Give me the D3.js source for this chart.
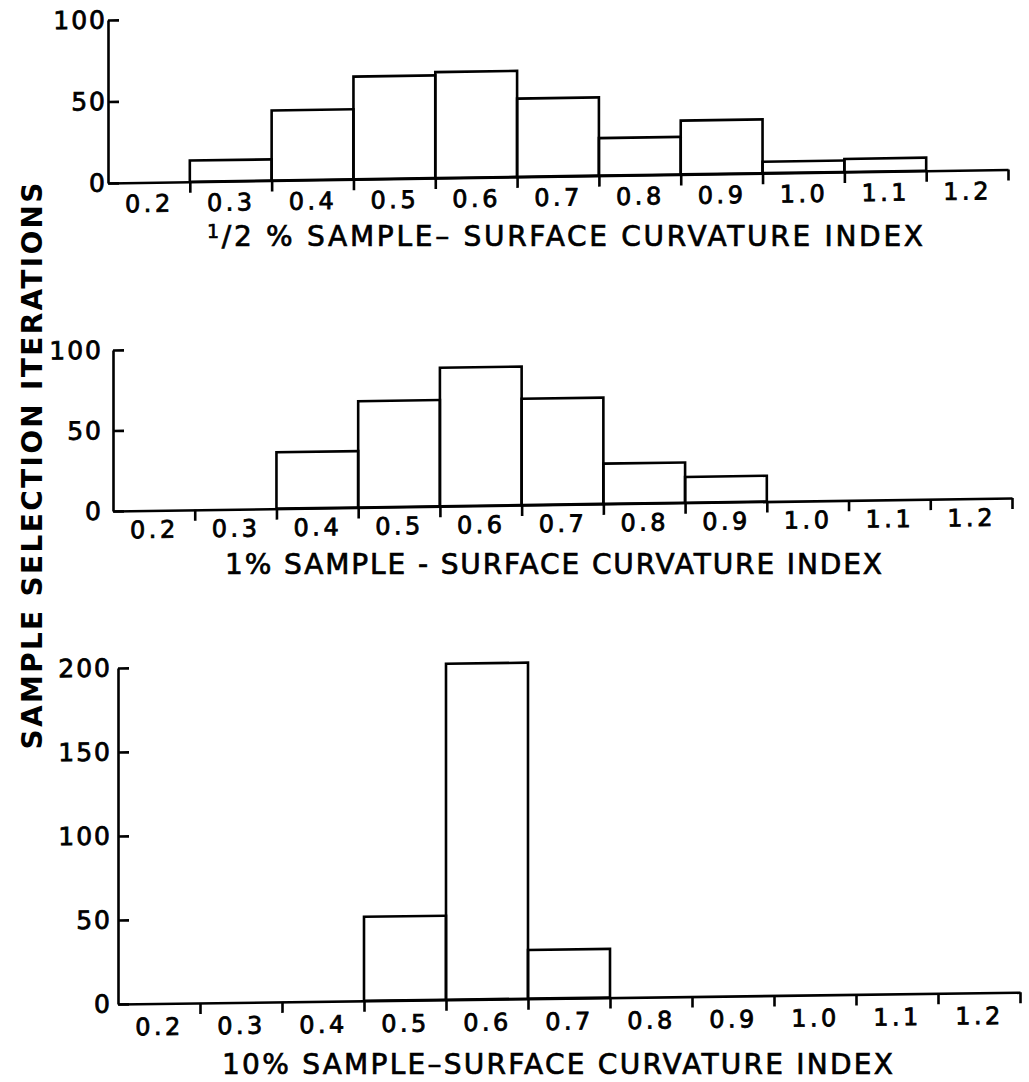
<!DOCTYPE html>
<html>
<head>
<meta charset="utf-8">
<script src="https://cdn.jsdelivr.net/npm/d3@7"></script>
<style>
  html, body { margin: 0; padding: 0; background: #fff; }
  svg { display: block; }
</style>
</head>
<body>
<svg id="chart" width="1029" height="1082"></svg>
<script>
// ---- data ----
const categories = [0.2, 0.3, 0.4, 0.5, 0.6, 0.7, 0.8, 0.9, 1.0, 1.1, 1.2];
const halfPercent = [0, 13, 43, 63, 65, 48, 23, 33, 7, 8, 0];
const onePercent  = [0, 0, 35, 66, 86, 66, 25, 16, 0, 0, 0];
const tenPercent  = [0, 0, 0, 50, 200, 29, 0, 0, 0, 0, 0];
const yTicksSmall = [0, 50, 100];
const yTicksLarge = [0, 50, 100, 150, 200];
const yTitle = "SAMPLE SELECTION ITERATIONS";
const xTitleRest1 = " % SAMPLE\u2013 SURFACE CURVATURE INDEX";
const xTitle2 = "1% SAMPLE - SURFACE CURVATURE INDEX";
const xTitle3 = "10% SAMPLE\u2013SURFACE CURVATURE INDEX";

// ---- layout ----
const svg = d3.select("#chart");
const FONT = "'DejaVu Sans', 'Liberation Sans', sans-serif";
const binHalf = 0.05;
const boundaries = d3.range(categories.length).map(i => +(categories[i] + binHalf).toFixed(2));

const panels = [
  { values: halfPercent, yMax: 100, yTicks: yTicksSmall, ox: 108, oy: 183, ex: 1008, yTop: 20,  slope: -0.015,  labelOff: 29.5, yPad: 1 },
  { values: onePercent,  yMax: 100, yTicks: yTicksSmall, ox: 113, oy: 511, ex: 1012, yTop: 350, slope: -0.0145, labelOff: 27.5, yPad: 10 },
  { values: tenPercent,  yMax: 200, yTicks: yTicksLarge, ox: 118, oy: 1004, ex: 1020, yTop: 668, slope: -0.013, labelOff: 31.5, yPad: 6 }
];

panels.forEach(p => {
  const x = d3.scaleLinear().domain([categories[0] - binHalf, categories[categories.length - 1] + binHalf]).range([p.ox, p.ex]);
  const y = d3.scaleLinear().domain([0, p.yMax]).range([p.oy, p.yTop]);
  const ang = Math.atan(p.slope) * 180 / Math.PI;
  const g = svg.append("g")
    .attr("transform", `translate(${p.ox},${p.oy}) skewY(${ang}) translate(${-p.ox},${-p.oy})`);

  // bars
  g.append("g").selectAll("rect")
    .data(categories.map((c, i) => ({ c, v: p.values[i] })).filter(d => d.v > 0))
    .join("rect")
    .attr("x", d => x(d.c - binHalf))
    .attr("width", d => x(d.c + binHalf) - x(d.c - binHalf))
    .attr("y", d => y(d.v))
    .attr("height", d => y(0) - y(d.v))
    .attr("fill", "none")
    .attr("stroke", "#000")
    .attr("stroke-width", 2.6);

  // x axis: baseline + boundary ticks
  const xa = g.append("g").attr("transform", `translate(0,${p.oy})`)
    .call(d3.axisBottom(x).tickValues(boundaries).tickSizeInner(11).tickSizeOuter(0).tickFormat(""));
  xa.selectAll("path, line").attr("stroke", "#000").attr("stroke-width", 2.6);

  // x tick labels at bin centres
  const xl = g.append("g").attr("transform", `translate(0,${p.oy})`)
    .call(d3.axisBottom(x).tickValues(categories).tickSize(0).tickFormat(d3.format(".1f")));
  xl.select(".domain").remove();
  xl.selectAll("text")
    .attr("y", p.labelOff).attr("dy", 0)
    .attr("font-family", FONT).attr("font-size", 24)
    .attr("letter-spacing", 3.5)
    .attr("fill", "#000").attr("stroke", "#000").attr("stroke-width", 0.8);

  // y axis with inward ticks
  const ya = g.append("g").attr("transform", `translate(${p.ox},0)`)
    .call(d3.axisLeft(y).tickValues(p.yTicks).tickSizeInner(-11).tickSizeOuter(0).tickPadding(p.yPad));
  ya.selectAll("path, line").attr("stroke", "#000").attr("stroke-width", 2.6);
  ya.selectAll("text")
    .attr("font-family", FONT).attr("font-size", 25)
    .attr("letter-spacing", 2)
    .attr("fill", "#000").attr("stroke", "#000").attr("stroke-width", 0.8);
});

// x-axis titles
const t1 = svg.append("text")
  .attr("x", 207).attr("y", 246)
  .attr("font-family", FONT).attr("font-size", 28)
  .attr("fill", "#000").attr("stroke", "#000").attr("stroke-width", 0.7)
  .attr("textLength", 716).attr("lengthAdjust", "spacing");
t1.append("tspan").attr("font-size", 19).attr("dy", -8).text("1");
t1.append("tspan").attr("dy", 8).text("/2");
t1.append("tspan").text(xTitleRest1);

svg.append("text")
  .attr("x", 225).attr("y", 574)
  .attr("font-family", FONT).attr("font-size", 28)
  .attr("fill", "#000").attr("stroke", "#000").attr("stroke-width", 0.7)
  .attr("textLength", 657).attr("lengthAdjust", "spacing")
  .text(xTitle2);

svg.append("text")
  .attr("x", 222).attr("y", 1074)
  .attr("font-family", FONT).attr("font-size", 28)
  .attr("fill", "#000").attr("stroke", "#000").attr("stroke-width", 0.7)
  .attr("textLength", 671).attr("lengthAdjust", "spacing")
  .text(xTitle3);

// y-axis title
svg.append("text")
  .attr("transform", "translate(42,466) rotate(-90)")
  .attr("text-anchor", "middle")
  .attr("font-family", FONT).attr("font-size", 28).attr("font-weight", "bold")
  .attr("fill", "#000")
  .attr("textLength", 567).attr("lengthAdjust", "spacing")
  .text(yTitle);
</script>
</body>
</html>
